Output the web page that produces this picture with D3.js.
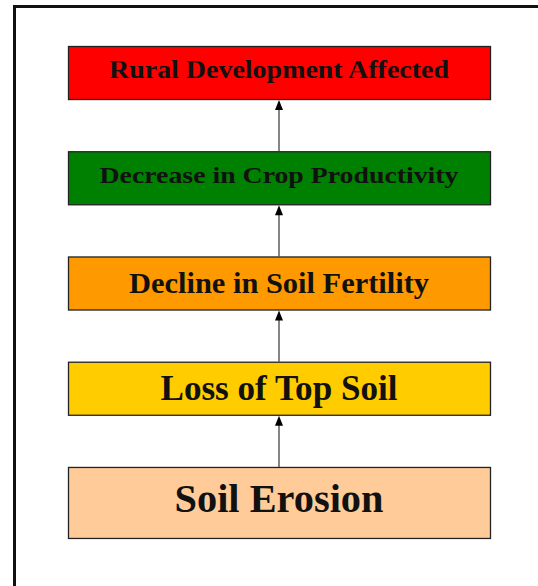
<!DOCTYPE html>
<html>
<head>
<meta charset="utf-8">
<script src="https://cdn.jsdelivr.net/npm/d3@7"></script>
<style>
  html, body { margin: 0; padding: 0; background: #fff; }
  svg { display: block; }
</style>
</head>
<body>
<svg id="chart"></svg>
<script>
// stages of the chain, top to bottom
const stages = [
    "Rural Development Affected",
    "Decrease in Crop Productivity",
    "Decline in Soil Fertility",
    "Loss of Top Soil",
    "Soil Erosion"
];
const fills = ["#ff0000", "#008000", "#ff9900", "#ffcc00", "#ffcc99"];
// arrows point from each stage to the one above it
const links = [
    ["Soil Erosion", "Loss of Top Soil"],
    ["Loss of Top Soil", "Decline in Soil Fertility"],
    ["Decline in Soil Fertility", "Decrease in Crop Productivity"],
    ["Decrease in Crop Productivity", "Rural Development Affected"]
];

const fontSizes = [26, 24, 30, 35, 40];
const textWidths = [340, 359, 300, 237, 209];
const baseShift = ["0.2em", "0.2em", "0.32em", "0.35em", "0.24em"];

function drawChain(w, h){
    const svg = d3.select("#chart")
        .attr("width", w)
        .attr("height", h);

    // outer frame
    svg.append("rect")
        .attr("x", 14.5)
        .attr("y", 6.5)
        .attr("width", 530)
        .attr("height", 600)
        .attr("fill", "none")
        .attr("stroke", "#111")
        .attr("stroke-width", 3);

    const x = d3.scaleLinear().domain([0, 1]).range([68, 490]);
    const y = d3.scaleBand()
        .domain(stages)
        .range([46, 520])
        .paddingInner(0.496)
        .paddingOuter(0);

    const boxH = d => d === "Soil Erosion" ? 71 : y.bandwidth();

    const g = svg.selectAll(".stage")
        .data(stages)
        .enter()
        .append("g")
        .classed("stage", true);

    g.append("rect")
        .attr("x", x(0) + 0.5)
        .attr("y", d => y(d) + 0.5)
        .attr("width", x(1) - x(0))
        .attr("height", boxH)
        .attr("fill", (d, i) => fills[i])
        .attr("stroke", "#222")
        .attr("stroke-width", 1.3);

    g.append("text")
        .attr("x", (x(0) + x(1)) / 2)
        .attr("y", d => y(d) + boxH(d) / 2)
        .attr("dy", (d, i) => baseShift[i])
        .attr("text-anchor", "middle")
        .attr("font-family", "'Liberation Serif', 'Times New Roman', serif")
        .attr("font-weight", "bold")
        .attr("font-size", (d, i) => fontSizes[i])
        .attr("textLength", (d, i) => textWidths[i])
        .attr("lengthAdjust", "spacingAndGlyphs")
        .attr("fill", "#111")
        .text(d => d);

    // arrows
    const cx = 279;
    const a = svg.selectAll(".link")
        .data(links)
        .enter()
        .append("g")
        .classed("link", true);

    a.append("line")
        .attr("x1", cx)
        .attr("x2", cx)
        .attr("y1", d => y(d[0]))
        .attr("y2", d => y(d[1]) + y.bandwidth() + 8)
        .attr("stroke", "#444")
        .attr("stroke-width", 1.3);

    a.append("path")
        .attr("d", d => {
            const tip = y(d[1]) + y.bandwidth() + 1;
            return `M${cx},${tip} L${cx - 4},${tip + 10} L${cx + 4},${tip + 10} Z`;
        })
        .attr("fill", "#000");
}

drawChain(538, 586);
</script>
</body>
</html>
